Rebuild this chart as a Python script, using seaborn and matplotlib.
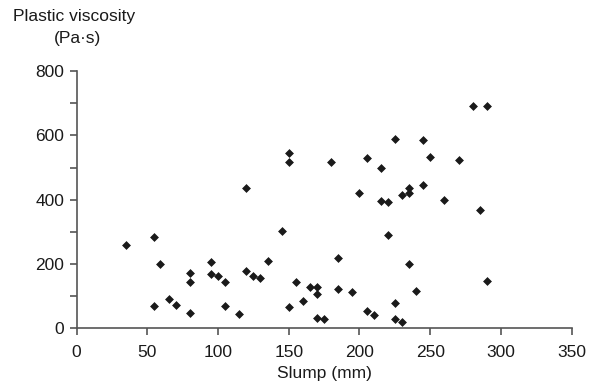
import matplotlib
matplotlib.use("Agg")
import matplotlib.pyplot as plt
import seaborn as sns
import pandas as pd
from matplotlib.ticker import MultipleLocator

slump = [35, 55, 55, 59, 65, 70, 80, 80, 80, 95, 95, 100, 105, 105, 115,
         120, 120, 125, 130, 135, 145, 150, 150, 150, 155, 160, 165, 170, 170, 170,
         175, 180, 185, 185, 195, 200, 205, 205, 210, 215, 215, 220, 220, 225, 225,
         225, 230, 230, 235, 235, 235, 240, 245, 245, 250, 260, 270, 280, 285, 290, 290]
viscosity = [258, 284, 69, 199, 93, 74, 173, 144, 47, 207, 170, 162, 144, 70, 45,
             435, 180, 162, 156, 209, 302, 545, 517, 68, 144, 85, 129, 129, 106, 32,
             31, 517, 219, 123, 113, 421, 530, 53, 41, 498, 395, 393, 291, 588, 78,
             30, 416, 19, 436, 420, 200, 116, 586, 447, 534, 398, 525, 692, 368, 692, 148]

df = pd.DataFrame({"Slump (mm)": slump, "Plastic viscosity": viscosity})

sns.set_style("white")
plt.rcParams['font.family'] = ['Liberation Sans', 'DejaVu Sans']

fig = plt.figure(figsize=(5.89, 3.87), dpi=100)
ax = fig.add_axes([0.130, 0.1512, 0.8406, 0.6653])

sns.scatterplot(data=df, x="Slump (mm)", y="Plastic viscosity", ax=ax,
                marker="D", s=16, color="#1a1a1a", edgecolor="#1a1a1a", linewidth=0.5)

ax.set_xlim(0, 350)
ax.set_ylim(0, 800)
ax.xaxis.set_major_locator(MultipleLocator(50))
ax.yaxis.set_major_locator(MultipleLocator(200))
ax.yaxis.set_minor_locator(MultipleLocator(100))

for s in ["top", "right"]:
    ax.spines[s].set_visible(False)
for s in ["left", "bottom"]:
    ax.spines[s].set_color("#555555")
    ax.spines[s].set_linewidth(1.2)

ax.tick_params(axis="both", which="both", direction="out", color="#555555",
               width=1.2, labelsize=12.5, labelcolor="#1a1a1a",
               bottom=True, left=True, top=False, right=False)
ax.tick_params(axis="both", which="major", length=5)
ax.tick_params(axis="y", which="minor", length=5)
ax.tick_params(axis="x", which="minor", bottom=False)
ax.tick_params(axis="x", which="major", pad=7)
ax.tick_params(axis="y", which="major", pad=4)

ax.set_xlabel("Slump (mm)", fontsize=12.5, color="#1a1a1a", labelpad=4)
ax.set_ylabel("")

fig.text(74/589, 1 - 17/387, "Plastic viscosity", ha="center", va="center",
         fontsize=12.5, color="#1a1a1a")
fig.text(77/589, 1 - 39/387, "(Pa·s)", ha="center", va="center",
         fontsize=12.5, color="#1a1a1a")

fig.savefig("out.png", dpi=100)
